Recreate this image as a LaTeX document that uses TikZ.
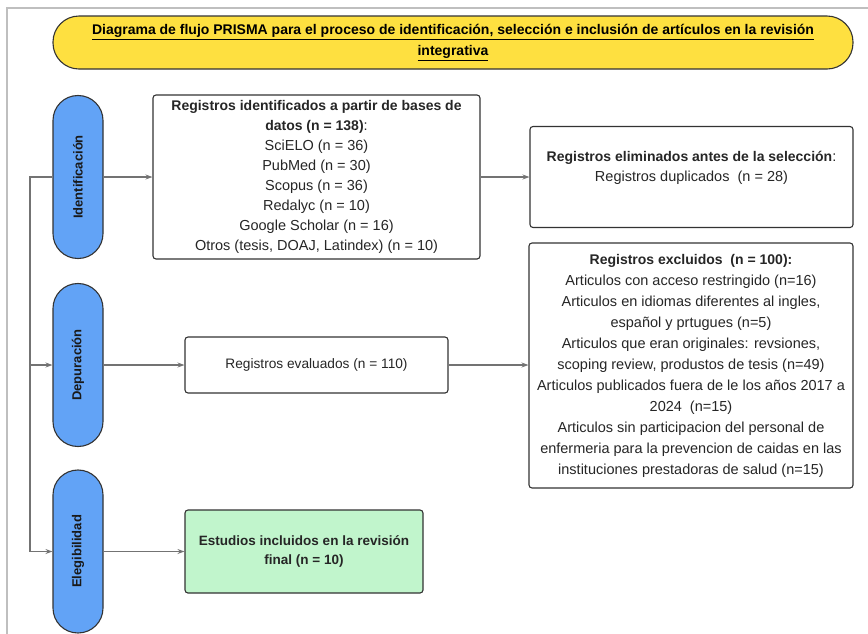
\documentclass[tikz,border=0pt]{standalone}
\usepackage{fontspec}
\setmainfont{Liberation Sans}
\usetikzlibrary{arrows.meta}

\definecolor{amarillo}{RGB}{254,224,64}
\definecolor{azul}{RGB}{98,163,246}
\definecolor{verde}{RGB}{193,245,204}
\newcommand{\negr}[1]{{\bfseries\fontsize{14}{20}\selectfont #1}}

\begin{document}
\begin{tikzpicture}[x=1pt,y=-1pt,
        caja/.style={draw=black!80,line width=1.1pt,rounded corners=3pt,fill=white,align=center,
            inner xsep=1pt,text=black!85,font=\fontsize{14.5}{20}\selectfont},
        fase/.style={draw=black!80,line width=1.1pt,fill=azul,rounded corners=24.9pt,
            minimum width=50pt,minimum height=163pt},
        fasetxt/.style={rotate=90,text=black!90,font=\bfseries\fontsize{13}{15}\selectfont},
        flecha/.style={draw=black!55,line width=1.1pt,-{Stealth[length=7pt,width=5pt]}}
    ]
    \useasboundingbox (0,0) rectangle (868,633);
    % marco
    \draw[black!25,line width=2pt] (7,640) -- (7,8) -- (870,8);

    % titulo
    \node[draw=black!80,line width=1.1pt,fill=amarillo,rounded corners=26pt,
        minimum width=800pt,minimum height=53pt,align=center,
        font=\bfseries\fontsize{14}{21}\selectfont] (titulo) at (453,42.5)
        {\underline{Diagrama de flujo PRISMA para el proceso de identificación, selección e inclusión de artículos en la revisión}\\
         \underline{integrativa}};

    % fases
    \node[fase] (ident) at (78,177) {};
    \node[fasetxt] (identtxt) at (ident) {Identificación};
    \node[fase] (dep) at (78,365) {};
    \node[fasetxt] (deptxt) at (dep) {Depuración};
    \node[fase] (eleg) at (78,551.5) {};
    \node[fasetxt] (elegtxt) at (eleg) {Elegibilidad};

    % cajas
    \node[caja,minimum width=327pt,minimum height=164pt] (reg) at (316.5,177)
        {\negr{Registros identificados a partir de bases de}\\
         \negr{datos (n = 138)}:\\
         SciELO (n = 36)\\
         PubMed (n = 30)\\
         Scopus (n = 36)\\
         Redalyc (n = 10)\\
         Google Scholar (n = 16)\\
         Otros (tesis, DOAJ, Latindex) (n = 10)};
    \node[caja,minimum width=323pt,minimum height=101pt] (elim) at (691.5,177) {};
    \node[align=center,text=black!85,font=\fontsize{14.5}{20}\selectfont] (elimtxt) at (691.5,168)
        {\negr{Registros eliminados antes de la selección}:\\
         Registros duplicados \ (n = 28)};
    \node[caja,minimum width=263pt,minimum height=56pt,font=\fontsize{13.7}{20}\selectfont] (eval) at (316.5,365)
        {Registros evaluados (n = 110)};
    \node[caja,minimum width=324pt,minimum height=245pt,font=\fontsize{14.5}{21}\selectfont] (excl) at (691,365.5)
        {\negr{Registros excluidos \ (n = 100):}\\
         Articulos con acceso restringido (n=16)\\
         Articulos en idiomas diferentes al ingles,\\
         español y prtugues (n=5)\\
         Articulos que eran originales: revsiones,\\
         scoping review, produstos de tesis (n=49)\\
         Articulos publicados fuera de le los años 2017 a\\
         2024 \ (n=15)\\
         Articulos sin participacion del personal de\\
         enfermeria para la prevencion de caidas en las\\
         instituciones prestadoras de salud (n=15)};
    \node[caja,fill=verde,minimum width=238pt,minimum height=83pt,font=\bfseries\fontsize{13.5}{19}\selectfont] (incl) at (304,551.5)
        {Estudios incluidos en la revisión\\ final (n = 10)};

    % conexiones
    \coordinate (bustop) at (30,177);
    \coordinate (busdep) at (30,365);
    \draw[flecha] (ident.west) -- (bustop) |- (eleg.west);
    \draw[flecha] (busdep) -- (dep.west);
    \draw[flecha] (ident.east) -- (reg.west);
    \draw[flecha] (reg.east) -- (elim.west);
    \draw[flecha] (dep.east) -- (eval.west);
    \draw[flecha] (eval.east) -- (excl.west |- eval.east);
    \draw[flecha] (eleg.east) -- (incl.west);
\end{tikzpicture}
\end{document}
